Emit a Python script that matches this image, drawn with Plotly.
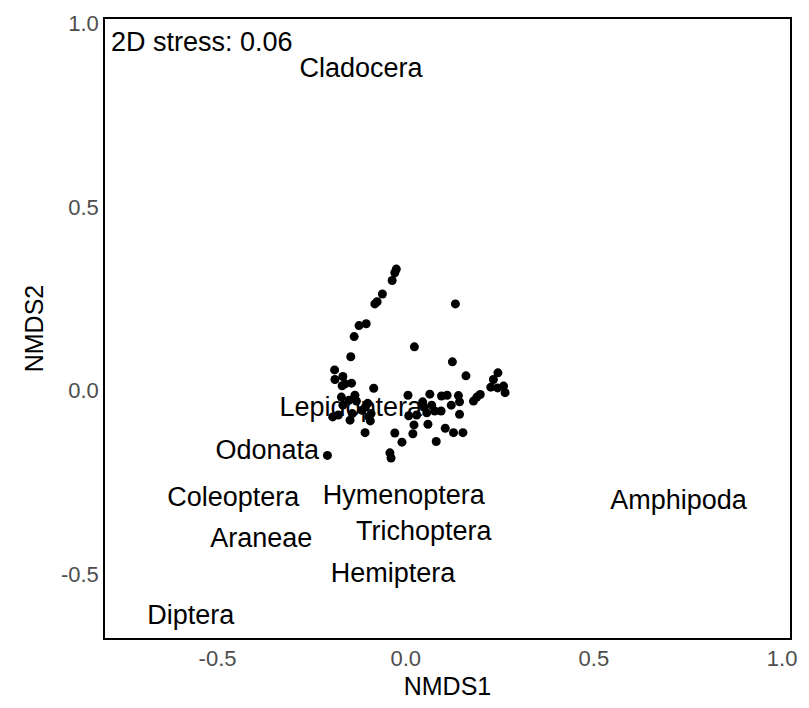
import plotly.graph_objects as go

# Site scores on the first two NMDS axes
site_nmds1 = [
    -0.025, -0.029, -0.036, -0.062, -0.076, -0.082, -0.105, -0.124, -0.137, -0.146,
    0.132, 0.023, 0.124, -0.189, 0.160, -0.188, -0.167, -0.161, -0.144, -0.085,
    0.245, 0.233, 0.226, 0.244, 0.260, 0.264, 0.198, 0.189, 0.180, 0.140,
    0.143, 0.121, 0.095, 0.064, 0.045, 0.006, -0.171, -0.151, -0.131, -0.107,
    -0.101, -0.092, -0.194, -0.148, -0.094, 0.094, 0.077, 0.056, 0.048, 0.008,
    0.143, 0.022, 0.059, 0.105, 0.127, 0.152, -0.108, -0.029, 0.019, -0.010,
    0.081, -0.042, -0.039, -0.208, -0.179, -0.142, -0.098, -0.116, -0.169, -0.167,
    -0.135, 0.029, 0.069, 0.110,
]
site_nmds2 = [
    0.331, 0.321, 0.300, 0.263, 0.242, 0.236, 0.182, 0.177, 0.147, 0.092,
    0.236, 0.119, 0.078, 0.056, 0.040, 0.030, 0.038, 0.018, 0.020, 0.006,
    0.048, 0.030, 0.009, 0.007, 0.012, -0.006, -0.011, -0.018, -0.029, -0.014,
    -0.031, -0.040, -0.015, -0.010, -0.031, -0.013, -0.018, -0.027, -0.029, -0.045,
    -0.035, -0.063, -0.072, -0.081, -0.083, -0.056, -0.056, -0.061, -0.045, -0.069,
    -0.065, -0.094, -0.092, -0.103, -0.115, -0.115, -0.115, -0.116, -0.118, -0.141,
    -0.139, -0.170, -0.184, -0.177, -0.067, -0.063, -0.072, -0.054, 0.013, -0.040,
    -0.013, -0.067, -0.040, -0.013,
]

# Taxon (species) scores
taxa = ["Cladocera", "Lepidoptera", "Odonata", "Coleoptera", "Hymenoptera",
        "Amphipoda", "Araneae", "Trichoptera", "Hemiptera", "Diptera"]
taxa_nmds1 = [-0.119, -0.146, -0.368, -0.458, -0.005, 0.725, -0.384, 0.048, -0.034, -0.571]
taxa_nmds2 = [0.874, -0.050, -0.168, -0.296, -0.290, -0.304, -0.408, -0.390, -0.505, -0.619]

stress_label = "2D stress: 0.06"
x_ticks = [-0.5, 0.0, 0.5, 1.0]
x_tick_text = ["-0.5", "0.0", "0.5", "1.0"]
y_ticks = [-0.5, 0.0, 0.5, 1.0]
y_tick_text = ["-0.5", "0.0", "0.5", "1.0"]

FONT = "Liberation Sans, Arial, sans-serif"

fig = go.Figure()
fig.add_trace(go.Scatter(
    x=site_nmds1, y=site_nmds2, mode="markers",
    marker=dict(color="black", size=9, line=dict(width=0)),
    hoverinfo="x+y", showlegend=False,
))
fig.add_trace(go.Scatter(
    x=taxa_nmds1, y=taxa_nmds2, mode="text", text=taxa,
    textposition="middle center",
    textfont=dict(family=FONT, size=27, color="black"),
    showlegend=False,
))

fig.add_annotation(
    x=-0.788, y=0.950, xref="x", yref="y", text=stress_label, showarrow=False,
    xanchor="left", yanchor="middle",
    font=dict(family=FONT, size=27, color="black"),
)

axis_common = dict(
    showgrid=False, zeroline=False, showline=True, mirror=True,
    linecolor="black", linewidth=1.5, ticks="",
    tickfont=dict(family=FONT, size=22, color="#4D4D4D"),
)

fig.update_layout(
    width=809, height=708,
    margin=dict(l=105, r=16, t=13, b=67),
    paper_bgcolor="white", plot_bgcolor="white",
    xaxis=dict(
        range=[-0.799, 1.021], tickvals=x_ticks, ticktext=x_tick_text,
        title=dict(text="NMDS1", standoff=7,
                   font=dict(family=FONT, size=25, color="black")),
        **axis_common,
    ),
    yaxis=dict(
        range=[-0.675, 1.013], tickvals=y_ticks, ticktext=y_tick_text,
        title=dict(text="NMDS2", standoff=10,
                   font=dict(family=FONT, size=25, color="black")),
        **axis_common,
    ),
)

fig.write_html("out.html")
